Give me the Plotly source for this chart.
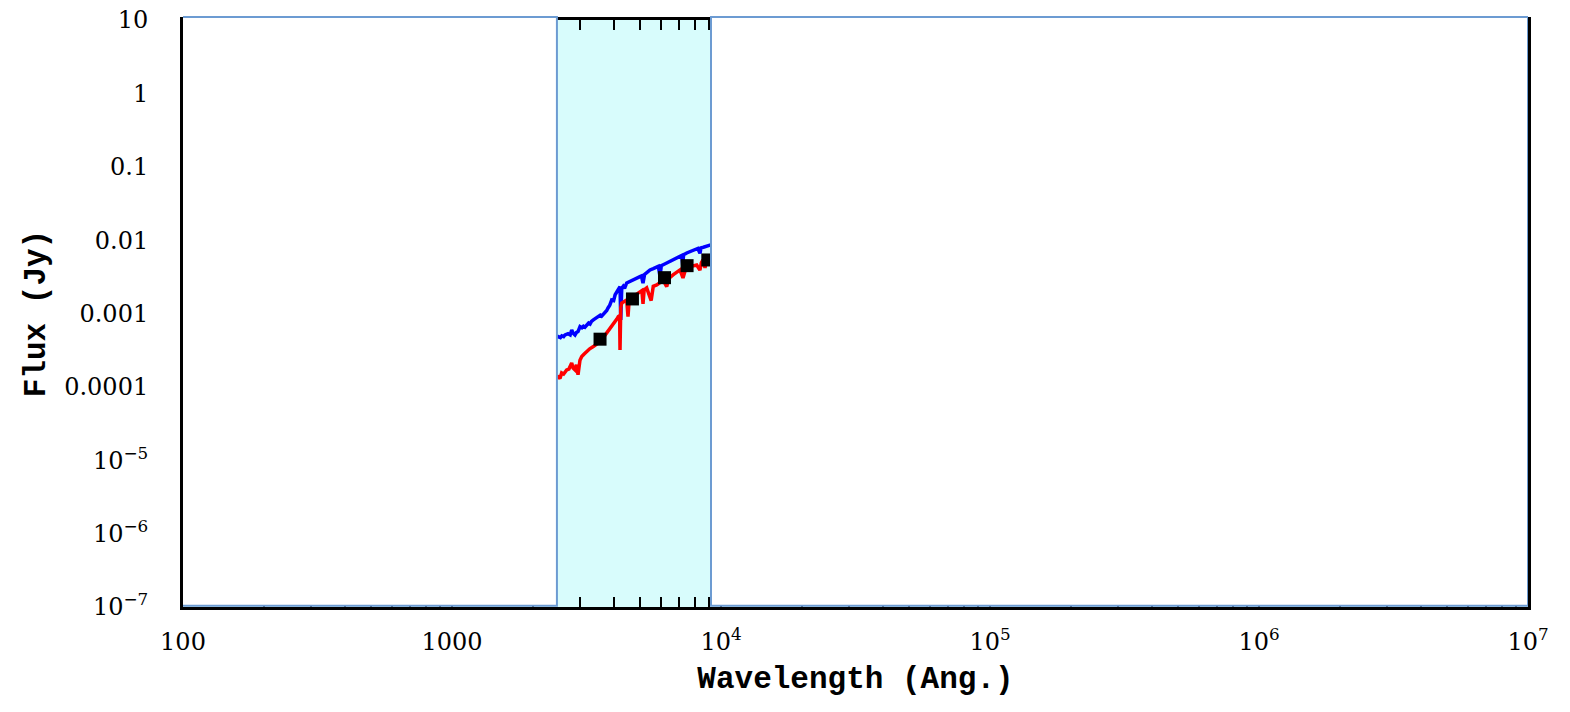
import plotly.graph_objects as go

# ---- data ----
blue_wave = [2400, 2485, 2530, 2560, 2600, 2631, 2700, 2750, 2786, 2820, 2866, 2900, 2941, 2992,
             3040, 3080, 3120, 3168, 3220, 3260, 3300, 3353, 3420, 3490, 3560, 3600, 3706, 3760,
             3802, 3860, 3924, 3990, 4040, 4096, 4150, 4213, 4240, 4275, 4330, 4380, 4461, 4580,
             4700, 4850, 4998, 5060, 5129, 5200, 5300, 5446, 5600, 5768, 5850, 5932, 6000, 6150,
             6283, 6450, 6632, 6800, 7040, 7150, 7204, 7260, 7457, 7650, 7870, 8050, 8200, 8355,
             8420, 8600, 8847, 9000, 9156, 9300]
blue_flux = [4.8e-4, 4.84e-4, 4.7e-4, 4.95e-4, 4.85e-4, 5.11e-4, 5.3e-4, 5.1e-4, 5.98e-4, 5.4e-4,
             5.11e-4, 5.5e-4, 5.67e-4, 6.63e-4, 6.4e-4, 6.7e-4, 6.5e-4, 6.99e-4, 7.4e-4, 7.2e-4,
             7.8e-4, 8.18e-4, 8.6e-4, 9.07e-4, 9.5e-4, 9.2e-4, 1.02e-3, 1.1e-3, 1.19e-3, 1.3e-3,
             1.53e-3, 1.5e-3, 1.8e-3, 1.99e-3, 2.1e-3, 2.33e-3, 8.2e-4, 2.2e-3, 2.35e-3, 2.2e-3,
             2.61e-3, 2.75e-3, 2.9e-3, 3.0e-3, 3.18e-3, 3.25e-3, 2.6e-3, 3.4e-3, 3.6e-3, 3.93e-3,
             4.1e-3, 4.36e-3, 4.4e-3, 3.2e-3, 4.5e-3, 4.7e-3, 4.89e-3, 5.1e-3, 5.37e-3, 5.6e-3,
             5.96e-3, 6.2e-3, 4.6e-3, 6.3e-3, 6.69e-3, 7.0e-3, 7.35e-3, 7.5e-3, 7.7e-3, 6.6e-3,
             7.85e-3, 8.0e-3, 8.34e-3, 8.45e-3, 8.6e-3, 8.7e-3]

red_wave = [2400, 2485, 2520, 2557, 2600, 2669, 2720, 2786, 2820, 2866, 2900, 2941, 2990, 3036,
            3100, 3168, 3250, 3353, 3450, 3550, 3650, 3760, 3850, 3924, 3980, 4036, 4100, 4152,
            4200, 4213, 4240, 4275, 4360, 4461, 4511, 4560, 4709, 4850, 4998, 5080, 5130, 5180,
            5293, 5500, 5600, 5768, 5950, 6087, 6283, 6400, 6632, 6850, 7040, 7222, 7400, 7671,
            7900, 8123, 8350, 8450, 8573, 8720, 8850, 9000, 9156, 9300]
red_flux = [1.33e-4, 1.38e-4, 1.3e-4, 1.55e-4, 1.5e-4, 1.70e-4, 1.75e-4, 2.12e-4, 1.8e-4, 1.70e-4,
            2.0e-4, 1.46e-4, 2.3e-4, 2.59e-4, 2.8e-4, 3.03e-4, 3.3e-4, 3.54e-4, 3.8e-4, 4.14e-4,
            4.7e-4, 5.44e-4, 6.0e-4, 6.63e-4, 7.0e-4, 7.76e-4, 8.4e-4, 9.07e-4, 9.3e-4, 3.19e-4,
            1.2e-3, 1.39e-3, 1.45e-3, 1.53e-3, 9.07e-4, 1.58e-3, 1.70e-3, 1.85e-3, 1.99e-3, 2.05e-3,
            1.35e-3, 2.1e-3, 2.23e-3, 1.5e-3, 2.35e-3, 2.45e-3, 2.65e-3, 2.87e-3, 2.33e-3, 3.0e-3,
            3.36e-3, 3.6e-3, 3.93e-3, 3.06e-3, 4.1e-3, 4.36e-3, 4.45e-3, 4.59e-3, 3.9e-3, 4.9e-3,
            5.37e-3, 4.18e-3, 5.5e-3, 5.6e-3, 5.72e-3, 5.8e-3]

phot_wave = [3551, 4686, 6166, 7480, 8932]
phot_flux = [4.47e-4, 1.58e-3, 3.08e-3, 4.49e-3, 5.37e-3]

x_tick_vals = [100, 1000, 1e4, 1e5, 1e6, 1e7]
x_tick_text = ["100", "1000", "10<sup>4</sup>", "10<sup>5</sup>", "10<sup>6</sup>", "10<sup>7</sup>"]
x_minor_vals = [m * 10 ** e for e in range(2, 7) for m in range(2, 10)]

y_tick_vals = [1e-7, 1e-6, 1e-5, 1e-4, 1e-3, 1e-2, 1e-1, 1, 10]
y_tick_text = ["10<sup>−7</sup>", "10<sup>−6</sup>", "10<sup>−5</sup>", "0.0001", "0.001",
               "0.01", "0.1", "1", "10"]

# masked (white) wavelength ranges
mask_left = [96.6, 2455]
mask_right = [9180, 1e7]

fig = go.Figure()
fig.add_trace(go.Scatter(x=blue_wave, y=blue_flux, mode="lines",
                         line=dict(color="#0000ff", width=3.5), showlegend=False))
fig.add_trace(go.Scatter(x=red_wave, y=red_flux, mode="lines",
                         line=dict(color="#ff0000", width=3.5), showlegend=False))
fig.add_trace(go.Scatter(x=phot_wave, y=phot_flux, mode="markers",
                         marker=dict(symbol="square", size=13, color="black"), showlegend=False))

for x0, x1 in (mask_left, mask_right):
    fig.add_shape(type="rect", xref="x", yref="paper", x0=x0, x1=x1, y0=0.002, y1=1.005,
                  fillcolor="white", line=dict(color="#6c9bd2", width=2), layer="above")

tick_font = dict(family="DejaVu Serif", size=24, color="black")
title_font = dict(family="Liberation Mono", size=31, color="black", weight="bold")

fig.update_layout(
    width=1554, height=696,
    margin=dict(l=175, r=34, t=12, b=97),
    paper_bgcolor="white",
    plot_bgcolor="#d8fcfc",
    xaxis=dict(type="log", range=[2, 7], tickvals=x_tick_vals, ticktext=x_tick_text,
               ticks="inside", ticklen=10, tickwidth=2, tickcolor="black",
               minor=dict(tickvals=x_minor_vals, ticks="inside", ticklen=10, tickwidth=2,
                          tickcolor="black", showgrid=False),
               showline=True, linecolor="black", linewidth=3, mirror="ticks",
               showgrid=False, zeroline=False, tickfont=tick_font, ticklabelstandoff=11,
               automargin=False, ticklabeloverflow="allow",
               title=dict(text="Wavelength (Ang.)", font=title_font, standoff=12)),
    yaxis=dict(type="log", range=[-7, 1.0005], tickvals=y_tick_vals, ticktext=y_tick_text,
               ticks="", showline=True, linecolor="black", linewidth=3, mirror=True,
               showgrid=False, zeroline=False, tickfont=tick_font, ticklabelstandoff=27,
               automargin=False, ticklabeloverflow="allow",
               title=dict(text="Flux (Jy)", font=title_font, standoff=10)),
)

fig.write_html("out.html")
